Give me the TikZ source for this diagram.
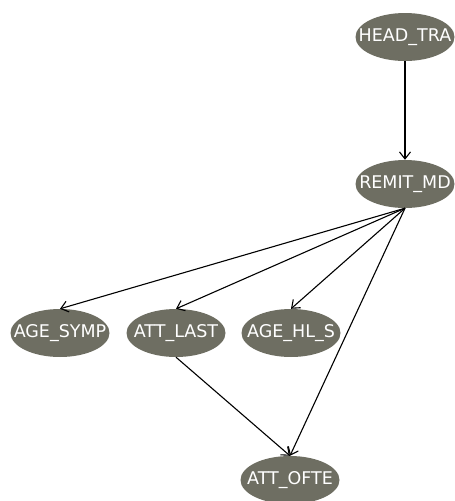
\documentclass[tikz,border=0pt]{standalone}
\usepackage{fontspec}
\setmainfont{DejaVu Sans}
\usetikzlibrary{shapes.geometric,arrows.meta}
\definecolor{nodefill}{HTML}{6E6E62}
% variable name centred on its ellipse, without widening it
\newcommand{\varname}[1]{\makebox[0pt][c]{#1}}
\begin{document}
\begin{tikzpicture}[x=1pt,y=-1pt,
  var/.style={ellipse,fill=nodefill,draw=none,text=white,minimum width=99pt,minimum height=48pt,inner sep=0pt,font=\fontsize{17.5}{20}\selectfont},
  link/.style={draw=black,line width=1.1pt,-{Straight Barb[length=7pt,width=11pt,line width=1.1pt]}}]
\useasboundingbox (0,0) rectangle (455,501);
\node[var] (head) at (405,37) {\varname{HEAD\_TRA}};
\node[var] (remit) at (405,184) {\varname{REMIT\_MD}};
\node[var] (agesymp) at (60,333) {\varname{AGE\_SYMP}};
\node[var] (attlast) at (176,333) {\varname{ATT\_LAST}};
\node[var] (agehl) at (291,333) {\varname{AGE\_HL\_S}};
\node[var] (attofte) at (290,480) {\varname{ATT\_OFTE}};
\draw[link] (head.south) -- (remit.north);
\draw[link] (remit.south) -- (agesymp.north);
\draw[link] (remit.south) -- (attlast.north);
\draw[link] (remit.south) -- (agehl.north);
\draw[link] (remit.south) -- (attofte.north);
\draw[link] (attlast.south) -- (attofte.north);
\end{tikzpicture}
\end{document}
